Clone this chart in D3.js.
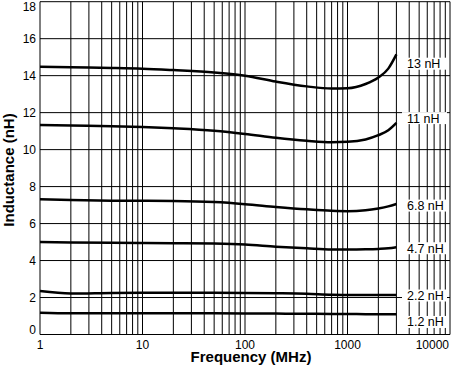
<!DOCTYPE html>
<html>
<head>
<meta charset="utf-8">
<script src="https://cdn.jsdelivr.net/npm/d3@7"></script>
<style>
  body { margin: 0; background: #fff; }
  svg { display: block; font-family: "Liberation Sans", Arial, sans-serif; }
</style>
</head>
<body>
<script>
// frequencies (MHz) shared by every curve
const freq = [1, 2, 5, 10, 20, 50, 100, 200, 400, 700, 1000, 1500, 2000, 2500, 3000]
// inductance readings (nH) per part
const l13 = [14.48, 14.45, 14.42, 14.38, 14.3, 14.17, 14.0, 13.68, 13.42, 13.3, 13.32, 13.55, 13.9, 14.38, 15.15]
const l11 = [11.33, 11.3, 11.27, 11.22, 11.15, 11.02, 10.85, 10.64, 10.48, 10.4, 10.42, 10.55, 10.78, 11.05, 11.45]
const l68 = [7.31, 7.27, 7.24, 7.23, 7.22, 7.16, 7.05, 6.9, 6.77, 6.69, 6.67, 6.72, 6.82, 6.93, 7.06]
const l47 = [5.0, 4.98, 4.96, 4.95, 4.94, 4.92, 4.87, 4.75, 4.66, 4.6, 4.6, 4.61, 4.63, 4.66, 4.72]
const l22 = [2.35, 2.22, 2.25, 2.26, 2.26, 2.26, 2.25, 2.23, 2.2, 2.15, 2.14, 2.13, 2.13, 2.13, 2.13]
const l12 = [1.18, 1.15, 1.15, 1.15, 1.15, 1.15, 1.14, 1.13, 1.12, 1.11, 1.11, 1.1, 1.1, 1.1, 1.1]
const names = ['13 nH', '11 nH', '6.8 nH', '4.7 nH', '2.2 nH', '1.2 nH']
const xTicks = [1, 10, 100, 1000, 10000]
const yTicks = [0, 2, 4, 6, 8, 10, 12, 14, 16, 18]

const size = { width: 451, height: 372, left: 40, right: 450, top: 1.7, bottom: 334.5 }

const svg = d3.select('body').append('svg')
  .attr('width', size.width)
  .attr('height', size.height)

const x = d3.scaleLog().domain([1, 10000]).range([size.left, size.right])
const y = d3.scaleLinear().domain([0, 18]).range([size.bottom, size.top])

// grid: every 1..9 of each decade
const vgrid = []
for (let d = 1; d < 10000; d *= 10) for (let k = 1; k < 10; k++) vgrid.push(d * k)
vgrid.push(10000)

const grid = svg.append('g').attr('stroke', '#000').attr('stroke-width', 1)
grid.selectAll('.v').data(vgrid).enter().append('line')
  .attr('x1', d => x(d)).attr('x2', d => x(d))
  .attr('y1', size.top).attr('y2', size.bottom)
grid.selectAll('.h').data(yTicks).enter().append('line')
  .attr('x1', size.left).attr('x2', size.right)
  .attr('y1', d => y(d)).attr('y2', d => y(d))

// curves
const series = [l13, l11, l68, l47, l22, l12]
const line = d3.line()
  .x((d, i) => x(freq[i]))
  .y(d => y(d))
  .curve(d3.curveMonotoneX)
svg.append('g').selectAll('path').data(series).enter().append('path')
  .attr('d', line)
  .attr('fill', 'none')
  .attr('stroke', '#000')
  .attr('stroke-width', 2.5)

// part labels at right (pixel nudges from the curve end)
const labelDy = [9.3, -4.7, 1.6, 1, 0.4, 7.8]
const lab = svg.append('g').selectAll('g').data(series).enter().append('g')
  .attr('transform', (d, i) => `translate(0,${y(d[d.length - 1]) + labelDy[i]})`)
lab.append('rect')
  .attr('x', 402).attr('y', -6).attr('width', 45).attr('height', 12)
  .attr('fill', '#fff')
lab.append('text')
  .attr('x', 407).attr('y', 4.5)
  .attr('font-size', 12.5)
  .text((d, i) => names[i])

// tick labels
svg.append('g').selectAll('text').data(xTicks).enter().append('text')
  .attr('x', d => d === 10000 ? 449 : x(d))
  .attr('y', 348.5)
  .attr('text-anchor', d => d === 10000 ? 'end' : 'middle')
  .attr('font-size', 12)
  .text(d => d)
svg.append('g').selectAll('text').data(yTicks).enter().append('text')
  .attr('x', 36)
  .attr('y', d => Math.min(Math.max(y(d) + 4.3, 10.7), 334.3))
  .attr('text-anchor', 'end')
  .attr('font-size', 12)
  .text(d => d)

// axis titles
svg.append('text')
  .attr('x', 251).attr('y', 362)
  .attr('text-anchor', 'middle')
  .attr('font-size', 15).attr('font-weight', 'bold')
  .text('Frequency (MHz)')
svg.append('text')
  .attr('transform', 'translate(13.5,170) rotate(-90)')
  .attr('text-anchor', 'middle')
  .attr('font-size', 15).attr('font-weight', 'bold')
  .text('Inductance (nH)')
</script>
</body>
</html>
